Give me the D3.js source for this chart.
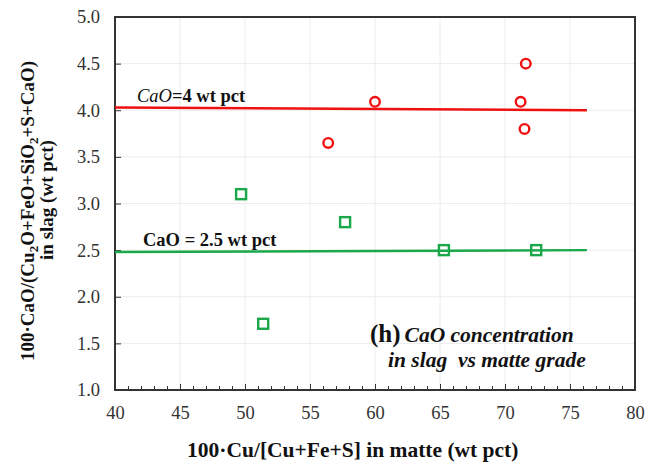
<!DOCTYPE html>
<html><head><meta charset="utf-8">
<script src="https://cdn.jsdelivr.net/npm/d3@7"></script>
<style>body{margin:0;background:#fff}svg{display:block}text{font-family:"Liberation Serif","DejaVu Serif","Times New Roman",serif}</style>
</head><body><svg id="c" width="656" height="465"></svg>
<script>
// ---- data ----
const redX = [56.4, 60.0, 71.2, 71.6, 71.5];
const redY = [3.65, 4.09, 4.09, 4.50, 3.80];
const greenX = [49.7, 57.7, 51.4, 65.3, 72.4];
const greenY = [3.10, 2.80, 1.71, 2.50, 2.50];
const redLineX = [40, 76.3];
const redLineY = [4.03, 4.00];
const greenLineX = [40, 76.3];
const greenLineY = [2.48, 2.50];
const xTicks = [40, 45, 50, 55, 60, 65, 70, 75, 80];
const yTicks = [1.0, 1.5, 2.0, 2.5, 3.0, 3.5, 4.0, 4.5, 5.0];

const svg = d3.select("#c");
const L = 115, R = 635, T = 17, B = 390;
const x = d3.scaleLinear().domain([40, 80]).range([L, R]);
const y = d3.scaleLinear().domain([1, 5]).range([B, T]);
const RED = "#f01010", GREEN = "#1aa84a";

// grid
svg.append("g").selectAll("line").data(xTicks.slice(1, -1)).join("line")
  .attr("x1", d => x(d)).attr("x2", d => x(d)).attr("y1", T).attr("y2", B)
  .attr("stroke", "#ececec").attr("stroke-width", 1);
svg.append("g").selectAll("line").data(yTicks.slice(1, -1)).join("line")
  .attr("y1", d => y(d)).attr("y2", d => y(d)).attr("x1", L).attr("x2", R)
  .attr("stroke", "#ececec").attr("stroke-width", 1);

// axes
const xAxis = d3.axisBottom(x).tickValues(xTicks).tickSize(-6).tickPadding(16).tickFormat(d3.format("d"));
const gx = svg.append("g").attr("transform", `translate(0,${B})`).call(xAxis);
const xMinor = d3.axisBottom(x).tickValues(d3.range(41, 80, 1).filter(d => d % 5)).tickSize(-4).tickFormat("");
const gxm = svg.append("g").attr("transform", `translate(0,${B})`).call(xMinor);
gxm.select(".domain").remove();
const yAxis = d3.axisLeft(y).tickValues(yTicks).tickSize(-6).tickPadding(15).tickFormat(d3.format(".1f"));
const gy = svg.append("g").attr("transform", `translate(${L},0)`).call(yAxis);
[gx, gy].forEach(g => {
  g.select(".domain").remove();
  g.attr("font-family", null).attr("font-size", null);
  g.selectAll(".tick text").attr("font-size", 18.5).attr("fill", "#333");
});
svg.selectAll(".tick line").attr("stroke", "#333").attr("stroke-width", 1);

// frame
svg.append("rect").attr("x", L).attr("y", T).attr("width", R - L).attr("height", B - T)
  .attr("fill", "none").attr("stroke", "#333").attr("stroke-width", 2);

// reference lines
const line = d3.line().x(d => x(d[0])).y(d => y(d[1]));
svg.append("path").attr("d", line(redLineX.map((v, i) => [v, redLineY[i]])))
  .attr("stroke", RED).attr("stroke-width", 2.5).attr("fill", "none");
svg.append("path").attr("d", line(greenLineX.map((v, i) => [v, greenLineY[i]])))
  .attr("stroke", GREEN).attr("stroke-width", 2.5).attr("fill", "none");

// markers
svg.append("g").selectAll("circle").data(redX.map((v, i) => [v, redY[i]])).join("circle")
  .attr("cx", d => x(d[0])).attr("cy", d => y(d[1])).attr("r", 4.8)
  .attr("fill", "none").attr("stroke", RED).attr("stroke-width", 2.4);
svg.append("g").selectAll("rect").data(greenX.map((v, i) => [v, greenY[i]])).join("rect")
  .attr("x", d => x(d[0]) - 5).attr("y", d => y(d[1]) - 5).attr("width", 10).attr("height", 10)
  .attr("fill", "none").attr("stroke", GREEN).attr("stroke-width", 2.4);

// line labels
const t1 = svg.append("text").attr("x", 137).attr("y", 102).attr("font-size", 18.5).attr("fill", "#111");
t1.append("tspan").attr("font-style", "italic").text("CaO");
t1.append("tspan").attr("font-weight", "bold").text("=4 wt pct");
svg.append("text").attr("x", 143).attr("y", 246).attr("font-size", 18.5)
  .attr("font-weight", "bold").attr("fill", "#111").text("CaO = 2.5 wt pct");

// annotation
const a1 = svg.append("text").attr("x", 370).attr("y", 342).attr("fill", "#111");
a1.append("tspan").attr("font-size", 25).attr("font-weight", "bold").text("(h)");
a1.append("tspan").attr("font-size", 21.5).attr("font-weight", "bold").attr("font-style", "italic").attr("dx", 4).text("CaO concentration");
svg.append("text").attr("x", 388).attr("y", 367).attr("fill", "#111")
  .attr("font-size", 21.5).attr("font-weight", "bold").attr("font-style", "italic")
  .attr("xml:space", "preserve").text("in slag  vs matte grade");

// axis titles
svg.append("text").attr("x", 187).attr("y", 457).attr("text-anchor", "start")
  .attr("font-size", 21.5).attr("font-weight", "bold").attr("fill", "#111")
  .text("100·Cu/[Cu+Fe+S] in matte (wt pct)");
const yt = svg.append("text").attr("transform", "translate(34,211) rotate(-90)").attr("text-anchor", "middle")
  .attr("font-size", 19).attr("font-weight", "bold").attr("fill", "#111");
yt.append("tspan").text("100·CaO/(Cu");
yt.append("tspan").attr("font-size", 13).attr("dy", 4).text("2");
yt.append("tspan").attr("dy", -4).text("O+FeO+SiO");
yt.append("tspan").attr("font-size", 13).attr("dy", 4).text("2");
yt.append("tspan").attr("dy", -4).text("+S+CaO)");
svg.append("text").attr("transform", "translate(53,200) rotate(-90)").attr("text-anchor", "middle")
  .attr("font-size", 19).attr("font-weight", "bold").attr("fill", "#111")
  .text("in slag (wt pct)");
</script></body></html>
